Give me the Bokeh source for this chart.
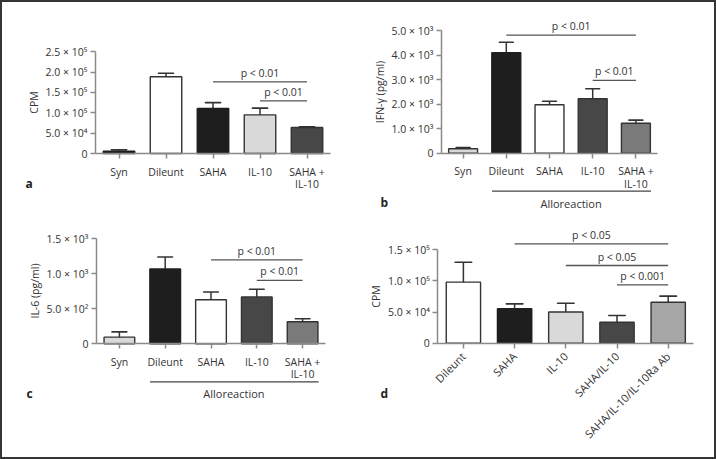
import math
from bokeh.plotting import figure
from bokeh.models import Range1d, LinearAxis, FixedTicker, ColumnDataSource
from bokeh.layouts import column, row
from bokeh.core.properties import value
from bokeh.embed import file_html
from bokeh.resources import INLINE

FONT = "Open Sans"

# ---------------- data ----------------
a_cats = ["Syn", "Dileunt", "SAHA", "IL-10", "SAHA +\nIL-10"]
a_mean = [5500, 188500, 110600, 95000, 64000]
a_sem = [3500, 8500, 14400, 16500, 1500]
a_colors = ["#1e1e1e", "#ffffff", "#1e1e1e", "#d9d9d9", "#474747"]
a_yticks = [0, 50000, 100000, 150000, 200000, 250000]
a_ylabels = ["0", "5.0 × 10⁴", "1.0 × 10⁵", "1.5 × 10⁵", "2.0 × 10⁵", "2.5 × 10⁵"]
a_pvals = [(2, 4, 176000, "p < 0.01"), (3, 4, 129500, "p < 0.01")]

b_cats = ["Syn", "Dileunt", "SAHA", "IL-10", "SAHA +\nIL-10"]
b_mean = [180, 4100, 1980, 2220, 1220]
b_sem = [50, 430, 140, 410, 130]
b_colors = ["#d9d9d9", "#1e1e1e", "#ffffff", "#474747", "#7a7a7a"]
b_yticks = [0, 1000, 2000, 3000, 4000, 5000]
b_ylabels = ["0", "1.0 × 10³", "2.0 × 10³", "3.0 × 10³", "4.0 × 10³", "5.0 × 10³"]
b_pvals = [(1, 4, 4820, "p < 0.01"), (3, 4, 2970, "p < 0.01")]

c_cats = ["Syn", "Dileunt", "SAHA", "IL-10", "SAHA +\nIL-10"]
c_mean = [95, 1070, 630, 670, 314]
c_sem = [75, 170, 110, 110, 43]
c_colors = ["#d9d9d9", "#1e1e1e", "#ffffff", "#474747", "#7a7a7a"]
c_yticks = [0, 500, 1000, 1500]
c_ylabels = ["0", "5.0 × 10²", "1.0 × 10³", "1.5 × 10³"]
c_pvals = [(2, 4, 1200, "p < 0.01"), (3, 4, 905, "p < 0.01")]

d_cats = ["Dileunt", "SAHA", "IL-10", "SAHA/IL-10", "SAHA/IL-10/IL-10Ra Ab"]
d_mean = [98000, 55200, 50000, 33700, 65800]
d_sem = [32000, 8000, 14200, 10800, 9700]
d_colors = ["#ffffff", "#1e1e1e", "#d9d9d9", "#474747", "#a6a6a6"]
d_yticks = [0, 50000, 100000, 150000]
d_ylabels = ["0", "5.0 × 10⁴", "1.0 × 10⁵", "1.5 × 10⁵"]
d_pvals = [(1, 4, 159500, "p < 0.05"), (2, 4, 124700, "p < 0.05"), (3, 4, 93700, "p < 0.001")]

TXT = "#333333"
AX = "#8a8a8a"


def panel(cats, mean, sem, colors, yticks, ylabels, pvals, ylabel, letter,
          origin, size, ax_x, step, y0, ypx, rotate=False, alloreaction=False):
    ox, oy = origin
    w, h = size
    yunit = ypx  # pixels per data unit
    x_start = -0.5 + (ox - ax_x) / step
    x_end = -0.5 + (ox + w - ax_x) / step
    y_end = (y0 - oy) / yunit
    y_start = -(oy + h - y0) / yunit
    p = figure(width=w, height=h, x_range=Range1d(x_start, x_end),
               y_range=Range1d(y_start, y_end), output_backend="svg",
               toolbar_location=None, x_axis_location=None, y_axis_location=None,
               min_border=0)
    p.outline_line_color = None
    p.background_fill_color = None
    p.border_fill_color = None
    p.xgrid.visible = False
    p.ygrid.visible = False

    n = len(cats)
    xs = list(range(n))
    lines = ["#333333" if c != "#1e1e1e" else c for c in colors]
    src = ColumnDataSource(dict(x=xs, top=mean, fill=colors, line=lines,
                                up=[m + s for m, s in zip(mean, sem)], mean=mean))
    p.vbar(x="x", top="top", bottom=0, width=0.67, fill_color="fill",
           line_color="line", line_width=1.4, source=src)
    p.segment(x0="x", y0="mean", x1="x", y1="up", line_color="#333333",
              line_width=1.5, source=src)
    p.rect(x="x", y="up", width=0.33, height=0.1, height_units="screen",
           line_color="#333333", line_width=1.5, fill_color=None, source=src)

    # axes
    yax = LinearAxis(fixed_location=-0.5, bounds=(yticks[0], yticks[-1]))
    yax.ticker = FixedTicker(ticks=yticks)
    yax.major_label_overrides = {t: l for t, l in zip(yticks, ylabels)}
    yax.axis_label = ylabel
    xax = LinearAxis(fixed_location=0, bounds=(-0.5, n - 0.5))
    xax.ticker = FixedTicker(ticks=xs)
    xax.major_label_overrides = {i: c for i, c in enumerate(cats)}
    if rotate:
        xax.major_label_orientation = math.pi / 4
    for ax in (xax, yax):
        ax.axis_line_color = AX
        ax.axis_line_width = 1.5
        ax.major_tick_line_color = AX
        ax.major_tick_line_width = 1.5
        ax.major_tick_out = 5
        ax.major_tick_in = 0
        ax.minor_tick_line_color = None
        ax.major_label_text_font = FONT
        ax.major_label_text_font_size = "10.5px"
        ax.major_label_text_color = TXT
        ax.axis_label_text_font = FONT
        ax.axis_label_text_font_size = "10.5px"
        ax.axis_label_text_font_style = "normal"
        ax.axis_label_text_color = TXT
    yax.major_label_standoff = 3
    yax.axis_label_standoff = 2
    xax.major_label_standoff = 6
    xax.major_label_text_line_height = 0.9
    if rotate:
        xax.major_label_text_font_size = "11px"
    p.add_layout(yax, "left")
    p.add_layout(xax, "below")

    # significance brackets
    bx0 = [s for s, e, y, t in pvals]
    bx1 = [e for s, e, y, t in pvals]
    by = [y for s, e, y, t in pvals]
    bt = [t for s, e, y, t in pvals]
    p.segment(x0=bx0, x1=bx1, y0=by, y1=by, line_color="#555555", line_width=1.3)
    p.text(x=[(a + b) / 2 for a, b in zip(bx0, bx1)], y=[y + 9 / yunit for y in by],
           text=bt, text_font=value(FONT), text_font_size="10.5px", text_color=TXT,
           text_align="center", text_baseline="middle")

    if alloreaction:
        ly = -38 / yunit
        p.segment(x0=[0.67], x1=[4.35], y0=[ly], y1=[ly], line_color="#444444", line_width=1.2)
        p.text(x=[2.5], y=[-50 / yunit], text=["Alloreaction"], text_font=value(FONT),
               text_font_size="11px", text_color=TXT, text_align="center",
               text_baseline="middle")

    # panel letter
    lx, ly_px = letter[1]
    p.text(x=[-0.5 + (lx - ax_x) / step], y=[(y0 - ly_px) / yunit], text=[letter[0]],
           text_font=value(FONT), text_font_size="12px", text_font_style="bold",
           text_color="#222222", text_align="left", text_baseline="middle")
    return p


pa = panel(a_cats, a_mean, a_sem, a_colors, a_yticks, a_ylabels, a_pvals, "CPM",
           ("a", (25, 183)), (0, 0), (354, 218), 95, 47.0, 153, 40.7 / 1e5)
pb = panel(b_cats, b_mean, b_sem, b_colors, b_yticks, b_ylabels, b_pvals, "IFN-γ (pg/ml)",
           ("b", (380, 202)), (354, 0), (362, 218), 441, 43.2, 152.7, 24.5 / 1e3,
           alloreaction=True)
pc = panel(c_cats, c_mean, c_sem, c_colors, c_yticks, c_ylabels, c_pvals, "IL-6 (pg/ml)",
           ("c", (26, 393)), (0, 218), (354, 241), 96, 45.8, 343.3, 70 / 1e3,
           alloreaction=True)
pd_ = panel(d_cats, d_mean, d_sem, d_colors, d_yticks, d_ylabels, d_pvals, "CPM",
            ("d", (380, 393)), (354, 218), (362, 241), 437.3, 51.2, 342.7, 62.3 / 1e5,
            rotate=True)

layout = column(row(pa, pb), row(pc, pd_),
                styles={"outline": "2px solid #353535", "outline-offset": "-2px",
                        "background-color": "white"})
open("out.html", "w").write(file_html(layout, INLINE))
